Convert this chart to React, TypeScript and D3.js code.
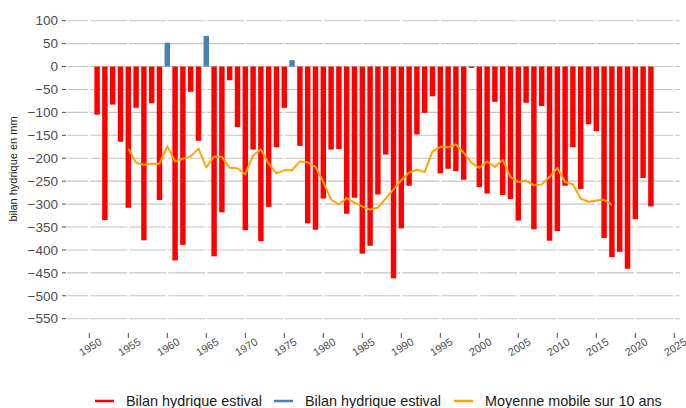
import React from "react";
import * as d3 from "d3";

const years = [
  1951, 1952, 1953, 1954, 1955, 1956, 1957, 1958, 1959, 1960,
  1961, 1962, 1963, 1964, 1965, 1966, 1967, 1968, 1969, 1970,
  1971, 1972, 1973, 1974, 1975, 1976, 1977, 1978, 1979, 1980,
  1981, 1982, 1983, 1984, 1985, 1986, 1987, 1988, 1989, 1990,
  1991, 1992, 1993, 1994, 1995, 1996, 1997, 1998, 1999, 2000,
  2001, 2002, 2003, 2004, 2005, 2006, 2007, 2008, 2009, 2010,
  2011, 2012, 2013, 2014, 2015, 2016, 2017, 2018, 2019, 2020,
  2021, 2022,
];

const bilan = [
  -105, -335, -83, -164, -308, -90, -379, -80, -291, 52,
  -423, -389, -55, -162, 67, -414, -318, -30, -132, -357,
  -181, -381, -306, -176, -90, 14, -173, -342, -356, -288,
  -181, -180, -321, -286, -408, -391, -279, -192, -462, -353,
  -260, -148, -101, -65, -233, -223, -228, -247, -3, -263,
  -277, -77, -280, -289, -336, -79, -355, -86, -380, -359,
  -260, -176, -267, -126, -141, -374, -416, -404, -441, -333,
  -243, -305,
];

const maYears = [
  1955, 1956, 1957, 1958, 1959, 1960, 1961, 1962, 1963, 1964,
  1965, 1966, 1967, 1968, 1969, 1970, 1971, 1972, 1973, 1974,
  1975, 1976, 1977, 1978, 1979, 1980, 1981, 1982, 1983, 1984,
  1985, 1986, 1987, 1988, 1989, 1990, 1991, 1992, 1993, 1994,
  1995, 1996, 1997, 1998, 1999, 2000, 2001, 2002, 2003, 2004,
  2005, 2006, 2007, 2008, 2009, 2010, 2011, 2012, 2013, 2014,
  2015, 2016, 2017,
];

const movingAvg = [
  -179, -210, -214, -212, -212, -174, -207, -201, -196, -179,
  -220, -196, -197, -221, -222, -235, -194, -181, -212, -233,
  -226, -226, -207, -209, -219, -252, -290, -301, -287, -297,
  -305, -312, -308, -288, -268, -248, -231, -225, -230, -185,
  -175, -176, -170, -188, -210, -221, -207, -219, -203, -241,
  -252, -249, -259, -257, -241, -221, -252, -257, -288, -295,
  -292, -290, -302,
];

const yTicks = [100, 50, 0, -50, -100, -150, -200, -250, -300, -350, -400, -450, -500, -550];
const xTicks = [1950, 1955, 1960, 1965, 1970, 1975, 1980, 1985, 1990, 1995, 2000, 2005, 2010, 2015, 2020, 2025];

const legendItems = [
  { label: "Bilan hydrique estival", color: "#FF0000" },
  { label: "Bilan hydrique estival", color: "#4682B4" },
  { label: "Moyenne mobile sur 10 ans", color: "#FFA500" },
];

const W = 686;
const H = 408;
const FONT = "'Liberation Sans', Arial, Helvetica, sans-serif";

export default function App() {
  const x = d3.scaleLinear().domain([1950, 2025]).range([89.3, 674.3]);
  const y = d3.scaleLinear().domain([100, -550]).range([20.7, 318.7]);
  const panelLeft = 67;
  const panelRight = 680;
  const panelTop = 8;
  const panelBottom = 330;
  const bw = (x(1951) - x(1950)) * 0.7;

  const line = d3
    .line<number>()
    .x((_, i) => x(maYears[i]))
    .y((d) => y(d));

  const legendX = [95, 274, 454];

  return (
    <svg
      width={W}
      height={H}
      style={{ position: "absolute", left: 0, top: 0, background: "#fff" }}
      fontFamily={FONT}
    >
      {yTicks.map((t) => (
        <line
          key={"g" + t}
          x1={panelLeft}
          x2={panelRight}
          y1={y(t)}
          y2={y(t)}
          stroke="#c4c4c4"
          strokeWidth={1.1}
        />
      ))}
      {xTicks.map((t) => (
        <line
          key={"v" + t}
          x1={x(t)}
          x2={x(t)}
          y1={panelTop}
          y2={panelBottom}
          stroke="#fff"
          strokeWidth={2}
        />
      ))}
      {yTicks.map((t) => (
        <g key={"yt" + t}>
          <line x1={62} x2={66} y1={y(t)} y2={y(t)} stroke="#4d4d4d" strokeWidth={1} />
          <text
            x={58}
            y={y(t)}
            dy="0.35em"
            textAnchor="end"
            fontSize={13.5}
            fill="#4d4d4d"
          >
            {t < 0 ? "\u2212" + Math.abs(t) : String(t)}
          </text>
        </g>
      ))}
      {xTicks.map((t) => (
        <g key={"xt" + t}>
          <line x1={x(t)} x2={x(t)} y1={333} y2={338} stroke="#4d4d4d" strokeWidth={1} />
          <text
            transform={`translate(${x(t) + 1},${347}) rotate(-32)`}
            textAnchor="middle"
            dy="0.35em"
            fontSize={10.8}
            fill="#4d4d4d"
          >
            {t}
          </text>
        </g>
      ))}
      {bilan.map((v, i) => (
        <rect
          key={"b" + years[i]}
          x={x(years[i]) - bw / 2}
          y={Math.min(y(v), y(0))}
          width={bw}
          height={Math.abs(y(v) - y(0))}
          fill={v >= 0 ? "#4682B4" : "#FF0000"}
        />
      ))}
      <path d={line(movingAvg) || ""} fill="none" stroke="#FFA500" strokeWidth={2} strokeLinejoin="round" />
      <text
        transform={`translate(${17},${169}) rotate(-90)`}
        textAnchor="middle"
        fontSize={11}
        fill="#1a1a1a"
      >
        bilan hydrique en mm
      </text>
      {legendItems.map((it, i) => (
        <g key={"l" + i}>
          <line
            x1={legendX[i]}
            x2={legendX[i] + 19}
            y1={401}
            y2={401}
            stroke={it.color}
            strokeWidth={2.5}
          />
          <text x={legendX[i] + 31} y={401} dy="0.35em" fontSize={14.4} fill="#1a1a1a">
            {it.label}
          </text>
        </g>
      ))}
    </svg>
  );
}
